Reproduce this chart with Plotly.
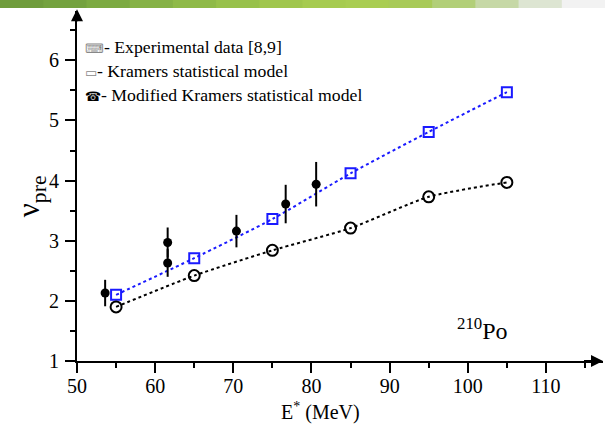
import plotly.graph_objects as go

# ---- data ----
energy_model = [55, 65, 75, 85, 95, 105]
kramers = [2.10, 2.71, 3.36, 4.12, 4.81, 5.47]
modified_kramers = [1.90, 2.42, 2.84, 3.21, 3.73, 3.97]

exp_energy = [53.6, 61.6, 61.6, 70.4, 76.7, 80.6]
exp_nu = [2.13, 2.97, 2.63, 3.16, 3.61, 3.94]
exp_err = [0.22, 0.25, 0.23, 0.27, 0.32, 0.37]

x_ticks = [50, 60, 70, 80, 90, 100, 110]
y_ticks = [1, 2, 3, 4, 5, 6]

legend_labels = ["- Experimental data [8,9]",
                 "- Kramers statistical model",
                 "- Modified Kramers statistical model"]
legend_icons = ["⌨", "▭", "☎"]

SERIF = "Liberation Serif"

fig = go.Figure()

fig.add_trace(go.Scatter(
    x=energy_model, y=kramers, mode="lines+markers",
    line=dict(color="#1a1aff", width=2, dash="dot", shape="spline", smoothing=0.6),
    marker=dict(symbol="square-open", size=10, color="#1a1aff", line=dict(width=2)),
    cliponaxis=False, showlegend=False))

fig.add_trace(go.Scatter(
    x=energy_model, y=modified_kramers, mode="lines+markers",
    line=dict(color="black", width=2, dash="dot", shape="spline", smoothing=0.6),
    marker=dict(symbol="circle-open", size=11, color="black", line=dict(width=2)),
    cliponaxis=False, showlegend=False))

fig.add_trace(go.Scatter(
    x=exp_energy, y=exp_nu, mode="markers",
    marker=dict(symbol="circle", size=9, color="black"),
    error_y=dict(type="data", array=exp_err, color="black", thickness=2, width=0),
    cliponaxis=False, showlegend=False))

# green banner at top (decorative gradient)
greens = ["#6f9c3c", "#74a23f", "#7caa42", "#86b246", "#8fba48", "#98c14b", "#a0c64d",
          "#a6cb50", "#a9cd52", "#a8ca58", "#b2cf78", "#c6d8a6", "#dde5d2", "#f2f2f2"]
n = len(greens)
for i, c in enumerate(greens):
    fig.add_shape(type="rect", xref="paper", yref="paper",
                  x0=-77/526 + i*(605/526)/n, x1=-77/526 + (i+1)*(605/526)/n + 0.002,
                  y0=1 + 3/350, y1=1 + 11/350, fillcolor=c, line=dict(width=0), layer="above")

axis_common = dict(
    showline=True, linecolor="black", linewidth=2,
    ticks="outside", ticklen=10, tickwidth=2, tickcolor="black",
    showgrid=False, zeroline=False, automargin=False,
    tickfont=dict(family=SERIF, size=20, color="black"),
)

fig.update_xaxes(range=[50, 117.3], tickvals=x_ticks, ticklabelstandoff=-4,
                 minor=dict(ticks="outside", ticklen=5, tickwidth=2, tickcolor="black", dtick=5, tick0=50),
                 **axis_common)
fig.update_yaxes(range=[1, 6.82], tickvals=y_ticks, ticklabelstandoff=2,
                 minor=dict(ticks="outside", ticklen=5, tickwidth=2, tickcolor="black", dtick=0.5, tick0=1),
                 **axis_common)

# axis titles
fig.add_annotation(x=-0.088, y=0.47, xref="paper", yref="paper", showarrow=False,
                   textangle=-90, xanchor="center", yanchor="middle",
                   text="ν<sub>pre</sub>", font=dict(family=SERIF, size=31, color="black"))
fig.add_annotation(x=0.462, y=-0.144, xref="paper", yref="paper", showarrow=False,
                   xanchor="center", yanchor="middle",
                   text="E<sup>*</sup> (MeV)", font=dict(family=SERIF, size=20, color="black"))

# axis arrows
fig.add_annotation(x=0, y=1.005, xref="paper", yref="paper", ax=0, ay=22, text=" ",
                   showarrow=True, arrowhead=2, arrowsize=1.2, arrowwidth=2, arrowcolor="black")
fig.add_annotation(x=1.0, y=0, xref="paper", yref="paper", ax=-22, ay=0, text=" ",
                   showarrow=True, arrowhead=2, arrowsize=1.2, arrowwidth=2, arrowcolor="black")

# legend
legend_y = [0.897, 0.829, 0.760]
for icon, lab, yy in zip(legend_icons, legend_labels, legend_y):
    col = "black" if icon == "☎" else "#888"
    fig.add_annotation(x=0.012, y=yy, xref="paper", yref="paper", xanchor="left", yanchor="middle",
                       showarrow=False, align="left",
                       text=f"<span style='color:{col};font-size:13px'>{icon}</span>{lab}",
                       font=dict(family=SERIF, size=17.7, color="black"))

fig.add_annotation(x=101.9, y=1.53, xref="x", yref="y", showarrow=False,
                   text="<sup>210</sup>Po", font=dict(family=SERIF, size=24, color="black"))

fig.update_layout(
    width=605, height=441,
    margin=dict(l=77, r=2, t=11, b=80),
    paper_bgcolor="white", plot_bgcolor="white",
    showlegend=False,
)

fig.write_html("out.html", config={"displayModeBar": False},
               post_script="document.body.style.margin='0px';")
